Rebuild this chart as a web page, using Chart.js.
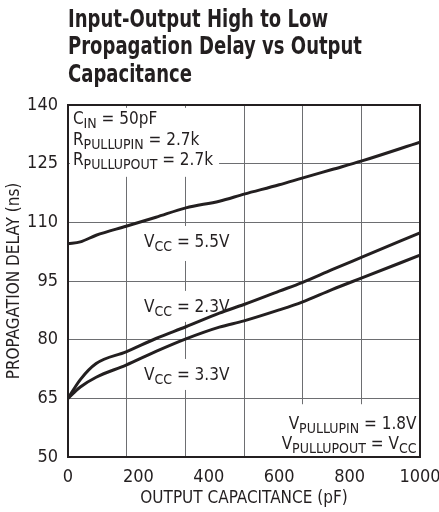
<!DOCTYPE html>
<html>
<head>
<meta charset="utf-8">
<script src="https://cdn.jsdelivr.net/npm/chart.js@4.4.1/dist/chart.umd.min.js"></script>
<style>
  html, body { margin: 0; padding: 0; background: #fff; }
  #wrap { width: 439px; height: 512px; }
</style>
</head>
<body>
<div id="wrap"><canvas id="chart"></canvas></div>
<script>
// values
const capacitance = [0, 35, 80, 165, 250, 335, 430, 500, 600, 665, 750, 835, 1000];
const delayVcc55 = [104.5, 105.0, 106.7, 109.0, 111.3, 113.7, 115.4, 117.2, 119.6, 121.3, 123.5, 125.7, 130.5];
const delayVcc23 = [65.0, 69.8, 73.9, 76.9, 80.3, 83.3, 86.8, 89.0, 92.4, 94.6, 97.9, 101.1, 107.3];
const delayVcc33 = [65.0, 67.9, 70.4, 73.5, 77.0, 80.2, 83.2, 84.8, 87.6, 89.6, 92.8, 95.8, 101.6];

const xTickLabels = [0, 200, 400, 600, 800, 1000];
const yTickLabels = [50, 65, 80, 95, 110, 125, 140];

const titleLines = ["Input-Output High to Low", "Propagation Delay vs Output", "Capacitance"];

const INK = "#231f20";
const GRID = "#6d6e71";
const FONT = "'Liberation Sans Narrow', 'Arial Narrow', 'DejaVu Sans Condensed', sans-serif";

// the grid on this plot is 6 x 6, the x labels sit every 200 pF
const xGrid = [1, 2, 3, 4, 5].map(i => i * 1000 / 6);
const isGrid = v => xGrid.some(g => Math.abs(g - v) < 0.01);
const isLabel = v => xTickLabels.some(t => Math.abs(t - v) < 0.01);

const toPoints = ys => capacitance.map((c, i) => ({ x: c, y: ys[i] }));

function series(ys) {
    return {
        data: toPoints(ys),
        borderColor: INK,
        borderWidth: 3,
        pointRadius: 0,
        fill: false,
        cubicInterpolationMode: "monotone",
    };
}

// text notes inside the plot: x, y in data units, parts with subscripts
// box = white backing [left, right, top, bottom] in px round the text
const notes = [
    { x: 14, y: 135.1, parts: [["C"], ["IN", 1], [" = 50pF"]] },
    { x: 14, y: 129.8, parts: [["R"], ["PULLUPIN", 1], [" = 2.7k"]] },
    { x: 14, y: 124.7, parts: [["R"], ["PULLUPOUT", 1], [" = 2.7k"]], box: [3, 6, 44, 8] },
    { x: 216, y: 103.7, parts: [["V"], ["CC", 1], [" = 5.5V"]], box: [11, 8, 8, 10] },
    { x: 216, y: 87.1, parts: [["V"], ["CC", 1], [" = 2.3V"]], box: [11, 8, 8, 6] },
    { x: 216, y: 69.7, parts: [["V"], ["CC", 1], [" = 3.3V"]], box: [11, 8, 8, 6] },
    { x: 990, y: 57.1, parts: [["V"], ["PULLUPIN", 1], [" = 1.8V"]], right: true, box: [8, 6, 12, 4] },
    { x: 990, y: 52.0, parts: [["V"], ["PULLUPOUT", 1], [" = V"], ["CC", 1]], right: true, box: [8, 6, 4, 8] },
];

const MAIN = "17px " + FONT;
const SUB = "14px " + FONT;

function textWidth(ctx, parts) {
    let w = 0;
    parts.forEach(p => {
        ctx.font = p[1] ? SUB : MAIN;
        w += ctx.measureText(p[0]).width;
    });
    return w;
}

// bold condensed heading, squeezed so the widest line fits the datasheet width
const titlePlugin = {
    id: "squeezedTitle",
    afterDraw(chart) {
        const { ctx, chartArea: a } = chart;
        ctx.save();
        ctx.font = "bold 25px " + FONT;
        ctx.fillStyle = INK;
        ctx.textBaseline = "alphabetic";
        const sx = 294 / ctx.measureText(titleLines[1]).width;
        ctx.translate(a.left, 0);
        ctx.scale(sx, 1);
        titleLines.forEach((t, i) => ctx.fillText(t, 0, 27 + i * 27.4));
        ctx.restore();
    },
};

const notesPlugin = {
    id: "notes",
    beforeDatasetsDraw(chart) {
        const { ctx, scales } = chart;
        ctx.save();
        ctx.textBaseline = "alphabetic";
        const placed = notes.map(n => {
            const w = textWidth(ctx, n.parts);
            let x = scales.x.getPixelForValue(n.x);
            const y = scales.y.getPixelForValue(n.y);
            if (n.right) x -= w;
            return { n, w, x, y };
        });
        // white backing first, so no box hides a neighbour's text
        ctx.fillStyle = "#fff";
        placed.forEach(({ n, w, x, y }) => {
            if (!n.box) return;
            const [l, r, t, b] = n.box;
            ctx.fillRect(x - l, y - 13 - t, w + l + r, 17 + t + b);
        });
        ctx.fillStyle = INK;
        placed.forEach(({ n, x, y }) => {
            n.parts.forEach(p => {
                ctx.font = p[1] ? SUB : MAIN;
                ctx.fillText(p[0], x, p[1] ? y + 4 : y);
                x += ctx.measureText(p[0]).width;
            });
        });
        ctx.restore();
    },
    afterDraw(chart) {
        const { ctx, chartArea: a } = chart;
        ctx.save();
        ctx.strokeStyle = INK;
        ctx.lineWidth = 2;
        ctx.strokeRect(a.left, a.top, a.right - a.left, a.bottom - a.top);
        ctx.restore();
    },
};

new Chart(document.getElementById("chart"), {
    type: "line",
    data: {
        datasets: [series(delayVcc55), series(delayVcc23), series(delayVcc33)],
    },
    options: {
        responsive: true,
        maintainAspectRatio: false,
        animation: false,
        devicePixelRatio: 1,
        layout: { padding: { left: 0, right: 19, top: 105, bottom: 0 } },
        plugins: {
            legend: { display: false },
            tooltip: { enabled: false },
            title: { display: false },
        },
        scales: {
            x: {
                type: "linear",
                min: 0,
                max: 1000,
                afterBuildTicks: s => {
                    const vals = [...new Set([...xTickLabels, ...xGrid])].sort((a, b) => a - b);
                    s.ticks = vals.map(v => ({ value: v }));
                },
                afterFit: s => {
                    s.height = 55;
                    s.paddingLeft = 0;
                    s.paddingRight = 0;
                },
                ticks: {
                    autoSkip: false,
                    maxRotation: 0,
                    padding: 10,
                    color: INK,
                    font: { family: FONT, size: 18 },
                    callback: v => (isLabel(v) ? String(v) : ""),
                },
                grid: {
                    drawTicks: false,
                    lineWidth: 1,
                    color: c => (c.tick && isGrid(c.tick.value) ? GRID : "rgba(0,0,0,0)"),
                },
                border: { display: false },
                title: {
                    display: true,
                    text: "OUTPUT CAPACITANCE (pF)",
                    color: INK,
                    font: { family: FONT, size: 17 },
                    padding: { top: 0, bottom: 3 },
                },
            },
            y: {
                min: yTickLabels[0],
                max: yTickLabels[yTickLabels.length - 1],
                afterBuildTicks: s => { s.ticks = yTickLabels.map(v => ({ value: v })); },
                afterFit: s => {
                    s.width = 68;
                    s.paddingTop = 0;
                    s.paddingBottom = 0;
                },
                ticks: {
                    padding: 10,
                    color: INK,
                    font: { family: FONT, size: 18 },
                },
                grid: { drawTicks: false, lineWidth: 1, color: GRID },
                border: { display: false },
                title: {
                    display: true,
                    text: "PROPAGATION DELAY (ns)",
                    color: INK,
                    font: { family: FONT, size: 17 },
                    padding: { top: 4, bottom: 0 },
                },
            },
        },
    },
    plugins: [notesPlugin, titlePlugin],
});
</script>
</body>
</html>
